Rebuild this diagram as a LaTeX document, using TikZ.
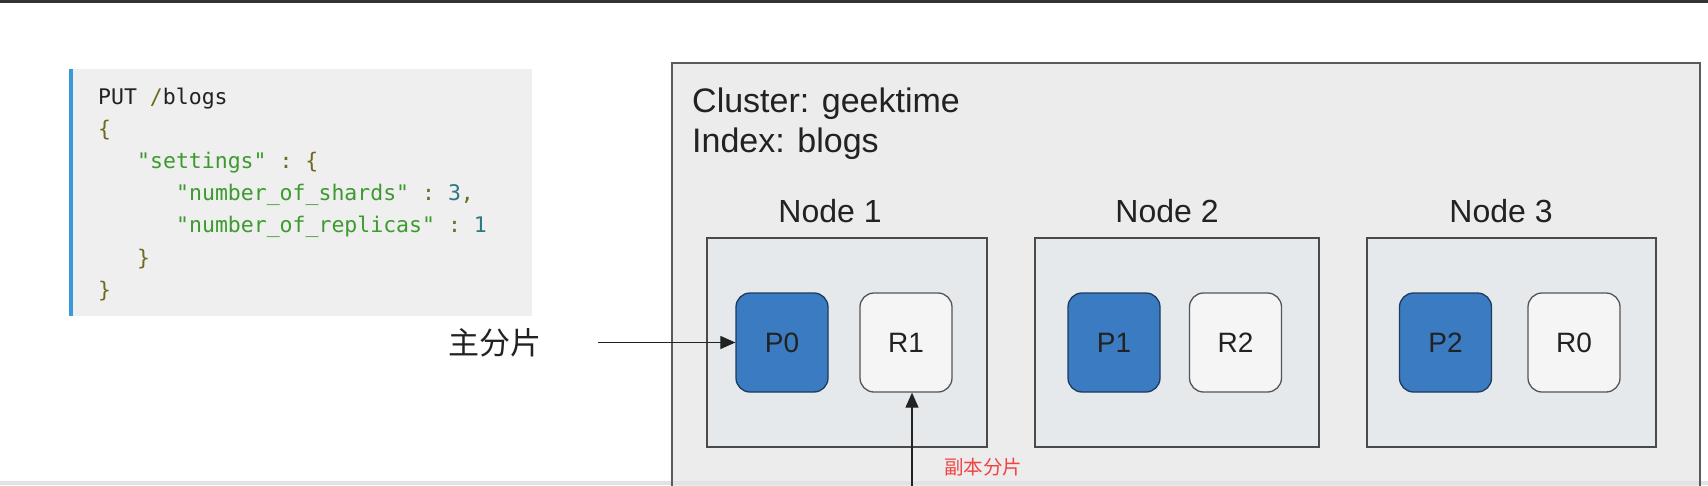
\documentclass[tikz,border=0pt]{standalone}
\usepackage{fontspec}
\setmainfont{Liberation Sans}
\setmonofont{DejaVu Sans Mono}
\newfontfamily\cjkfont{Noto Sans CJK SC}
\usetikzlibrary{arrows.meta}
\definecolor{topbar}{HTML}{333333}
\definecolor{codebg}{HTML}{EFEFEF}
\definecolor{codebar}{HTML}{3A9AD9}
\definecolor{codegreen}{HTML}{3C9A2E}
\definecolor{codeolive}{HTML}{6E6A1E}
\definecolor{codeteal}{HTML}{2A7A86}
\definecolor{codeblack}{HTML}{222222}
\definecolor{clusterfill}{HTML}{ECECEC}
\definecolor{clusterline}{HTML}{5A5A5A}
\definecolor{nodefill}{HTML}{E5E9EB}
\definecolor{nodeline}{HTML}{4A4A4A}
\definecolor{pfill}{HTML}{3A7BC1}
\definecolor{pline}{HTML}{1E3A5F}
\definecolor{rfill}{HTML}{F5F5F5}
\definecolor{rline}{HTML}{555555}
\definecolor{textdark}{HTML}{222222}
\definecolor{labelred}{HTML}{F04444}
\definecolor{bottomband}{HTML}{E2E2E2}
\begin{document}
\begin{tikzpicture}[x=1pt,y=-1pt,
  codeline/.style={anchor=base west,inner sep=0pt,font=\ttfamily\fontsize{21.5}{21.5}\selectfont},
  clustertext/.style={anchor=base west,inner sep=0pt,text=textdark,font=\fontsize{34}{34}\selectfont},
  nodelabel/.style={anchor=base,inner sep=0pt,text=textdark,font=\fontsize{32}{32}\selectfont},
  nodebox/.style={draw=nodeline,fill=nodefill,line width=1.5pt},
  shard/.style={rounded corners=14pt,line width=1.3pt,minimum width=92pt,minimum height=99pt,inner sep=0pt,text=textdark,font=\fontsize{28}{28}\selectfont},
  pshard/.style={shard,fill=pfill,draw=pline},
  rshard/.style={shard,fill=rfill,draw=rline},
  pointer/.style={draw=textdark,line width=1.2pt,-{Triangle[length=15pt,width=13pt]}}
]
\useasboundingbox (0,0) rectangle (1708,485);
\clip (0,0) rectangle (1708,485);
\fill[white] (0,0) rectangle (1708,485);
% top bar
\fill[topbar] (0,0) rectangle (1708,2.5);
% code block
\fill[codebg] (69,69) rectangle (532,316);
\fill[codebar] (69,69) rectangle (72.5,316);
\node[codeline] (c1) at (98,104) {\textcolor{codeblack}{PUT~}\textcolor{codeolive}{/}\textcolor{codeblack}{blogs}};
\node[codeline] (c2) at (98,136.2) {\textcolor{codeolive}{\{}};
\node[codeline] (c3) at (137,168.4) {\textcolor{codegreen}{"settings"}\textcolor{codeolive}{~:~\{}};
\node[codeline] (c4) at (176,200.6) {\textcolor{codegreen}{"number\_of\_shards"}\textcolor{codeolive}{~:~}\textcolor{codeteal}{3}\textcolor{codeolive}{,}};
\node[codeline] (c5) at (176,232.8) {\textcolor{codegreen}{"number\_of\_replicas"}\textcolor{codeolive}{~:~}\textcolor{codeteal}{1}};
\node[codeline] (c6) at (137,265) {\textcolor{codeolive}{\}}};
\node[codeline] (c7) at (98,297.2) {\textcolor{codeolive}{\}}};
% cluster
\fill[clusterfill] (672,63) rectangle (1700,500);
\fill[bottomband] (0,481) rectangle (1708,485);
\draw[clusterline,line width=1.5pt] (672,500) -- (672,63) -- (1700,63) -- (1700,500);
\node[clustertext] (cl) at (692,112.7) {Cluster: geektime};
\node[clustertext] (ix) at (692,152.7) {Index: blogs};
% nodes
\node[nodelabel] (n1l) at (830,222) {Node 1};
\node[nodelabel] (n2l) at (1167,222) {Node 2};
\node[nodelabel] (n3l) at (1501,222) {Node 3};
\draw[nodebox] (707,238) rectangle (987,447);
\draw[nodebox] (1035,238) rectangle (1319,447);
\draw[nodebox] (1367,238) rectangle (1656,447);
% shards
\node[pshard] (p0) at (782,342.5) {P0};
\node[rshard] (r1) at (906,342.5) {R1};
\node[pshard] (p1) at (1114,342.5) {P1};
\node[rshard] (r2) at (1235.5,342.5) {R2};
\node[pshard] (p2) at (1445.5,342.5) {P2};
\node[rshard] (r0) at (1574,342.5) {R0};
% labels and pointers
\node[inner sep=0pt,text=textdark,font=\cjkfont\fontsize{31}{31}\selectfont] (mainlbl) at (494.5,343) {主分片};
\coordinate (ms) at (598,342.5);
\draw[pointer] (ms) -- (ms -| p0.west);
\coordinate (rs) at (912,492);
\draw[pointer] (rs) -- (rs |- r1.south);
\node[inner sep=0pt,text=labelred,font=\cjkfont\fontsize{19.5}{19.5}\selectfont] (replbl) at (983,467.5) {副本分片};
\end{tikzpicture}
\end{document}
